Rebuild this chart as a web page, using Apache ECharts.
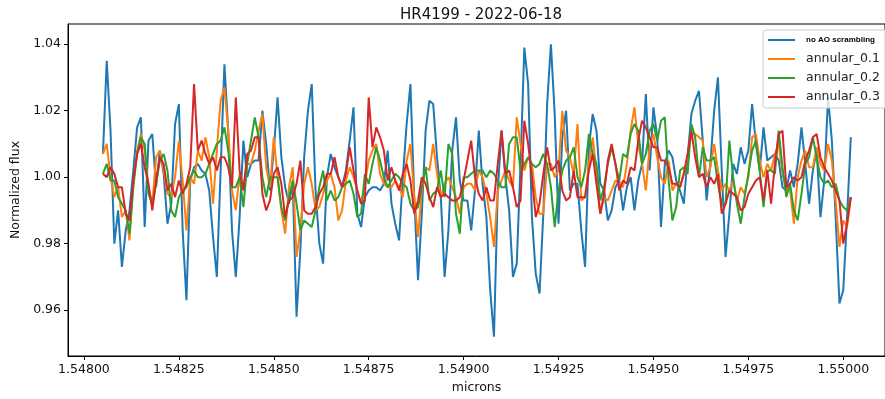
<!DOCTYPE html>
<html>
<head>
<meta charset="utf-8">
<script src="https://cdn.jsdelivr.net/npm/echarts@6/dist/echarts.min.js"></script>
<style>
  html, body { margin: 0; padding: 0; background: #fff; }
  #chart { width: 885px; height: 399px; }
</style>
</head>
<body>
<div id="chart"></div>
<script>
// wavelength grid (microns), one sample every 0.00001
const wlStart = 1.54805;
const wlStep = 0.00001;

const noAO = [
  1.007, 1.035, 1.014, 0.980, 0.990, 0.973, 0.984, 0.990, 1.002, 1.015,
  1.018, 0.985, 1.011, 1.013, 0.997, 1.008, 1.001, 0.986, 0.992, 1.016,
  1.022, 0.984, 0.963, 0.999, 1.003, 1.004, 1.002, 1.001, 0.996, 0.982,
  0.970, 1.002, 1.034, 1.014, 0.984, 0.970, 0.988, 1.011, 1.000, 1.004,
  1.005, 1.005, 1.020, 1.010, 0.996, 1.008, 1.024, 1.006, 0.997, 0.992,
  0.998, 0.958, 0.978, 1.006, 1.020, 1.028, 0.996, 0.980, 0.974, 1.000,
  1.007, 1.003, 1.000, 0.997, 1.002, 1.011, 1.021, 0.989, 0.985, 0.994,
  0.996, 0.997, 0.997, 0.996, 0.998, 1.008, 0.992, 0.986, 0.981, 1.000,
  1.016, 1.028, 0.994, 0.969, 0.989, 1.014, 1.023, 1.022, 1.006, 0.994,
  0.970, 0.984, 1.008, 1.018, 0.999, 0.993, 0.993, 0.984, 0.996, 1.014,
  0.998, 0.988, 0.966, 0.952, 0.996, 1.014, 1.000, 0.990, 0.970, 0.974,
  1.004, 1.039, 1.028, 0.988, 0.971, 0.965, 0.989, 1.022, 1.040, 1.019,
  0.986, 1.012, 1.020, 0.996, 0.998, 0.998, 0.984, 0.973, 1.009, 1.019,
  1.014, 0.998, 0.996, 0.987, 0.990, 0.997, 0.999, 0.990, 0.997, 1.000,
  0.990, 0.999, 1.004, 1.025, 1.002, 1.021, 1.012, 0.985, 1.004, 1.008,
  1.006, 0.999, 0.996, 0.992, 1.006, 1.019, 1.023, 1.026, 1.011, 0.993,
  1.004, 1.020, 1.030, 1.002, 0.976, 0.989, 1.004, 1.001, 1.009, 1.004,
  1.008, 1.022, 1.010, 1.002, 1.015, 1.005, 1.006, 1.007, 1.005, 0.997,
  0.996, 1.002, 0.997, 1.004, 1.015, 1.004, 0.992, 1.002, 1.008, 0.988,
  0.999, 1.024, 1.011, 0.988, 0.962, 0.966, 0.988, 1.012
];

const annular01 = [
  1.007, 1.010, 1.000, 0.994, 0.997, 0.988, 0.990, 0.981, 0.998, 1.008,
  1.013, 1.008, 0.997, 0.992, 1.006, 1.008, 1.002, 0.995, 0.994, 1.000,
  1.011, 0.999, 0.984, 1.000, 0.998, 1.008, 1.005, 1.012, 1.006, 0.992,
  1.008, 1.023, 1.027, 1.014, 0.996, 0.990, 1.001, 0.997, 1.004, 1.004,
  1.008, 1.014, 1.019, 1.003, 0.997, 1.012, 1.000, 0.990, 0.983, 0.997,
  1.003, 0.976, 0.984, 0.998, 1.003, 0.998, 0.990, 0.991, 0.995, 0.999,
  1.001, 0.997, 0.987, 0.990, 0.999, 1.003, 1.000, 0.996, 0.992, 0.998,
  1.005, 1.008, 1.010, 1.001, 0.998, 0.997, 0.997, 0.999, 0.997, 0.994,
  1.005, 1.010, 0.994, 0.982, 0.996, 1.003, 1.002, 1.010, 1.001, 0.994,
  0.998, 1.000, 0.997, 0.994, 0.989, 0.997, 0.998, 0.998, 0.996, 1.002,
  1.000, 0.995, 0.988, 0.979, 0.996, 0.999, 1.002, 0.999, 0.997, 1.018,
  1.010, 1.002, 1.006, 1.004, 0.994, 0.989, 0.989, 1.004, 1.004, 1.000,
  1.002, 1.020, 1.008, 1.006, 1.001, 1.016, 0.993, 0.994, 1.004, 1.012,
  1.002, 0.989, 0.994, 0.993, 0.996, 0.999, 0.998, 0.997, 1.004, 1.014,
  1.021, 1.010, 1.004, 0.996, 1.009, 1.013, 1.006, 1.000, 0.998, 1.005,
  0.996, 0.998, 0.997, 1.001, 1.006, 1.013, 1.013, 1.012, 1.011, 1.000,
  1.003, 1.010, 1.002, 0.996, 0.998, 0.996, 0.999, 0.993, 0.997, 0.995,
  1.000, 1.012, 1.013, 1.005, 1.000, 1.004, 1.002, 1.007, 1.010, 1.001,
  0.997, 0.996, 0.986, 1.000, 1.005, 1.008, 1.003, 1.003, 1.009, 1.004,
  1.002, 1.010, 1.005, 0.993, 0.979, 0.987, 0.985, 0.994
];

const annular02 = [
  1.001, 1.004, 0.999, 0.999, 0.994, 0.992, 0.990, 0.983, 0.997, 1.007,
  1.012, 1.010, 0.995, 0.992, 0.998, 1.005, 1.007, 1.002, 0.990, 0.988,
  0.994, 0.996, 0.997, 1.000, 1.002, 1.000, 1.000, 1.001, 1.004, 1.007,
  1.010, 1.011, 1.015, 1.008, 0.997, 0.997, 1.000, 0.991, 1.004, 1.011,
  1.018, 1.012, 1.000, 0.994, 1.000, 1.000, 1.000, 0.991, 0.987, 0.994,
  0.999, 0.992, 0.984, 0.987, 0.986, 0.985, 0.990, 0.997, 1.002, 0.993,
  0.996, 0.993, 0.994, 0.997, 0.998, 0.999, 0.995, 0.988, 0.989, 1.001,
  0.998, 1.004, 1.009, 1.005, 1.000, 0.997, 0.999, 1.001, 1.000, 0.998,
  0.997, 0.992, 0.990, 0.991, 0.997, 1.003, 0.993, 0.995, 0.996, 1.002,
  0.994, 1.010, 1.007, 0.989, 0.983, 1.000, 1.000, 1.001, 1.002, 1.002,
  1.002, 1.000, 1.002, 1.001, 0.999, 0.997, 0.997, 1.010, 1.012, 1.012,
  1.002, 1.004, 1.006, 1.004, 1.003, 1.004, 1.007, 1.004, 0.997, 0.985,
  0.996, 1.002, 1.005, 1.006, 1.009, 1.000, 0.997, 1.002, 1.013, 1.007,
  1.004, 0.993, 0.997, 1.004, 1.009, 1.004, 0.999, 1.007, 1.006, 1.013,
  1.016, 1.014, 1.004, 1.007, 1.014, 1.016, 1.011, 1.017, 1.018, 0.999,
  0.987, 0.991, 1.002, 1.003, 1.001, 1.016, 1.012, 1.000, 1.009, 1.005,
  1.005, 1.006, 0.998, 0.992, 0.992, 1.011, 1.000, 0.992, 0.986, 0.994,
  1.001, 1.008, 1.011, 1.002, 0.991, 1.002, 1.002, 1.001, 1.014, 1.003,
  0.994, 0.998, 0.990, 0.987, 0.995, 1.004, 1.006, 1.012, 1.006, 1.000,
  0.998, 0.999, 0.997, 0.998, 0.993, 0.991, 0.990, 0.994
];

const annular03 = [
  1.001, 1.000, 1.003, 1.001, 0.997, 0.997, 0.989, 0.987, 0.999, 1.007,
  1.010, 1.003, 0.998, 0.990, 0.999, 1.006, 1.004, 0.996, 0.998, 0.994,
  0.999, 0.995, 0.998, 1.003, 1.028, 1.008, 1.011, 1.007, 1.004, 1.006,
  1.002, 1.006, 1.006, 1.003, 0.997, 1.024, 1.002, 0.996, 1.007, 1.008,
  1.012, 1.012, 0.995, 0.990, 0.993, 1.001, 1.003, 0.998, 0.988, 0.993,
  0.994, 0.998, 1.005, 0.990, 0.989, 0.989, 0.991, 0.995, 0.997, 1.001,
  1.001, 1.006, 1.000, 0.997, 1.001, 1.009, 1.002, 0.996, 0.992, 0.993,
  1.024, 1.009, 1.015, 1.012, 1.008, 0.999, 1.003, 0.999, 0.996, 1.001,
  1.004, 0.999, 0.989, 0.993, 1.000, 0.998, 0.994, 0.991, 0.997, 0.994,
  0.995, 0.994, 0.993, 0.993, 0.994, 0.999, 1.005, 1.011, 1.000, 0.995,
  0.993, 0.997, 0.993, 0.993, 1.004, 1.014, 1.001, 1.002, 0.997, 0.991,
  0.993, 1.017, 1.010, 1.000, 0.988, 0.992, 1.001, 1.009, 1.002, 1.003,
  1.005, 0.996, 0.993, 0.994, 1.002, 0.994, 0.994, 0.994, 1.002, 1.007,
  0.998, 0.989, 0.995, 1.005, 1.010, 1.004, 0.996, 0.999, 0.998, 1.003,
  1.002, 1.011, 1.017, 1.015, 1.012, 1.009, 1.009, 1.005, 1.005, 1.003,
  0.998, 0.998, 0.997, 1.001, 1.007, 1.014, 1.006, 1.000, 1.001, 0.997,
  1.000, 0.998, 1.001, 0.989, 0.992, 0.996, 0.995, 0.994, 0.990, 0.991,
  0.995, 0.997, 0.999, 1.000, 0.993, 1.002, 0.992, 1.004, 1.013, 1.014,
  0.997, 0.998, 1.000, 0.999, 1.000, 1.005, 1.008, 1.012, 1.013, 1.006,
  1.003, 1.001, 0.999, 0.996, 0.993, 0.980, 0.986, 0.994
];

const seriesNames = ['no AO scrambling', 'annular_0.1', 'annular_0.2', 'annular_0.3'];
const seriesColors = ['#1f77b4', '#ff7f0e', '#2ca02c', '#d62728'];
const xTicks = [1.548, 1.54825, 1.5485, 1.54875, 1.549, 1.54925, 1.5495, 1.54975, 1.55];
const yTicks = [0.96, 0.98, 1.00, 1.02, 1.04];

const microns = noAO.map((_, i) => +(wlStart + i * wlStep).toFixed(6));
const allSeries = [noAO, annular01, annular02, annular03];

const font = 'DejaVu Sans';
const tickText = { fontFamily: font, fontSize: 12.5, color: '#111' };
// flat bar used as the legend key, so only a line shows
const lineKey = 'path://M0,0 H27 V2 H0 Z';

const chart = echarts.init(document.getElementById('chart'));

chart.setOption({
  animation: false,
  backgroundColor: '#fff',
  title: {
    text: 'HR4199 - 2022-06-18',
    left: 476,
    top: 3,
    textAlign: 'center',
    textStyle: { fontFamily: font, fontSize: 15, fontWeight: 'normal', color: '#111' }
  },
  grid: {
    left: 68, right: -4, top: 24, bottom: 42,
    show: true, borderColor: '#000', borderWidth: 1, backgroundColor: 'transparent'
  },
  legend: {
    orient: 'vertical',
    left: 763,
    top: 30,
    padding: [3, 12, 4, 5],
    itemWidth: 27,
    itemHeight: 14,
    itemGap: 5,
    icon: lineKey,
    backgroundColor: 'rgba(255,255,255,0.8)',
    borderColor: '#ccc',
    borderWidth: 1,
    borderRadius: 3,
    textStyle: { fontFamily: font, fontSize: 12.5, color: '#222', lineHeight: 14, padding: [0, 0, 0, 6] },
    data: [
      { name: seriesNames[0], textStyle: { fontFamily: 'Liberation Sans', fontSize: 8, fontWeight: 'bold', color: '#000' } },
      seriesNames[1], seriesNames[2], seriesNames[3]
    ]
  },
  xAxis: {
    type: 'value',
    min: 1.547958,
    max: 1.55011,
    name: 'microns',
    nameLocation: 'middle',
    nameGap: 25,
    nameTextStyle: { fontFamily: font, fontSize: 12.5, color: '#111' },
    axisLine: { show: true, lineStyle: { color: '#000', width: 1 } },
    axisTick: { show: true, inside: false, length: 4, customValues: xTicks, lineStyle: { color: '#000' } },
    axisLabel: { customValues: xTicks, margin: 7, formatter: v => v.toFixed(5), ...tickText },
    splitLine: { show: false }
  },
  yAxis: {
    type: 'value',
    min: 0.9462,
    max: 1.04609,
    name: 'Normalized flux',
    nameLocation: 'middle',
    nameGap: 42,
    nameTextStyle: { fontFamily: font, fontSize: 12.5, color: '#111' },
    axisLine: { show: true, lineStyle: { color: '#000', width: 1 } },
    axisTick: { show: true, inside: false, length: 4, customValues: yTicks, lineStyle: { color: '#000' } },
    axisLabel: { customValues: yTicks, margin: 7, formatter: v => v.toFixed(2), ...tickText },
    splitLine: { show: false }
  },
  series: allSeries.map((vals, k) => ({
    name: seriesNames[k],
    type: 'line',
    symbol: 'none',
    color: seriesColors[k],
    lineStyle: { width: 2, color: seriesColors[k] },
    data: vals.map((v, i) => [microns[i], v])
  }))
});
</script>
</body>
</html>
